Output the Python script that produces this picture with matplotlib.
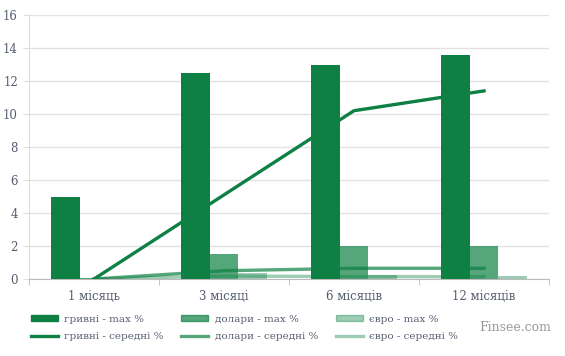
import matplotlib.pyplot as plt
from matplotlib.patches import Patch
from matplotlib.lines import Line2D
import numpy as np

# categories and values
categories = ["1 місяць", "3 місяці", "6 місяців", "12 місяців"]
uah_max = [5.0, 12.5, 13.0, 13.6]
usd_max = [0.05, 1.5, 2.0, 2.0]
eur_max = [0.0, 0.38, 0.22, 0.17]
uah_avg = [0.0, 5.1, 10.2, 11.4]
usd_avg = [0.0, 0.5, 0.65, 0.65]
eur_avg = [0.0, 0.18, 0.15, 0.14]

green = "#0e8044"
txt = "#555d70"

plt.rcParams['font.family'] = ['DejaVu Serif']

fig = plt.figure(figsize=(5.65, 3.56), dpi=100)
ax = fig.add_axes([29/565, 1-279/356, 520/565, 264/356])

x = np.arange(len(categories))
w = 0.22

# lines sit behind the bars in the original
ax.plot(x, uah_avg, color=green, lw=2.4, zorder=2)
ax.plot(x, usd_avg, color=green, alpha=0.7, lw=2.4, zorder=2)
ax.plot(x, eur_avg, color=green, alpha=0.4, lw=2.4, zorder=2)

ax.bar(x - w, uah_max, w, color=green, zorder=3)
ax.bar(x, usd_max, w, color=green, alpha=0.7, zorder=3)
ax.bar(x + w, eur_max, w, color=green, alpha=0.4, zorder=3)

ax.set_xlim(-0.5, 3.5)
ax.set_ylim(0, 16)
ax.set_yticks(range(0, 17, 2))
ax.set_xticks(x)
ax.set_xticklabels(categories)
ax.set_xticks(np.arange(-0.5, 4, 1), minor=True)
ax.tick_params(axis='x', which='major', length=0, pad=8, labelsize=8.5, labelcolor=txt)
ax.tick_params(axis='x', which='minor', length=4, color="#bbbbbb")
ax.tick_params(axis='y', length=4, color="#dddddd", labelsize=8.5, labelcolor=txt, pad=4)
ax.grid(axis='y', color="#e2e2e2", lw=1, zorder=0)
for s in ['top', 'right']:
    ax.spines[s].set_visible(False)
ax.spines['left'].set_color("#dddddd")
ax.spines['bottom'].set_color("#bbbbbb")

handles = [
    Patch(color=green), Line2D([], [], color=green, lw=2.4),
    Patch(color=green, alpha=0.7), Line2D([], [], color=green, alpha=0.7, lw=2.4),
    Patch(color=green, alpha=0.4), Line2D([], [], color=green, alpha=0.4, lw=2.4),
]
labels = ["гривні - max %", "гривні - середні %",
          "долари - max %", "долари - середні %",
          "євро - max %", "євро - середні %"]
leg = fig.legend(handles, labels, ncol=3, loc='upper left', bbox_to_anchor=(0.038, 0.142),
                 frameon=False, fontsize=7.5, handlelength=2.6, handleheight=0.5,
                 columnspacing=1.7, labelspacing=0.8, handletextpad=0.6)
for t in leg.get_texts():
    t.set_color(txt)

fig.text(0.975, 0.08, "Finsee.com", ha='right', va='center', fontsize=9, color="#999999")

fig.savefig("out.png", dpi=100)
